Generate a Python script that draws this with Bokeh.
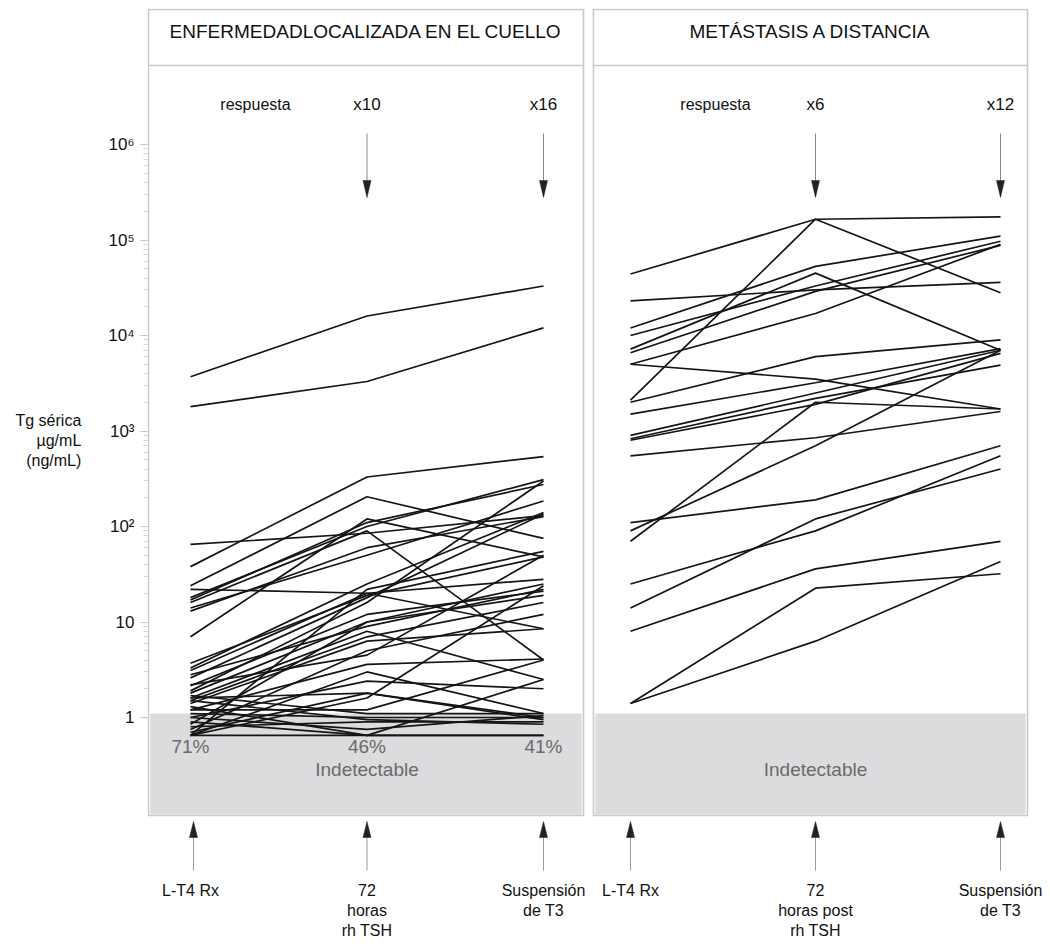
from bokeh.plotting import figure
from bokeh.models import Range1d, FixedTicker, LogScale
from bokeh.layouts import row
from bokeh.embed import file_html
from bokeh.resources import INLINE
from bokeh.core.properties import value

# ---------------- data ----------------
timepoints = [0, 1, 2]
left_title = "ENFERMEDADLOCALIZADA EN EL CUELLO"
right_title = "METÁSTASIS A DISTANCIA"
left_xlabels = ["L-T4 Rx", "72\nhoras\nrh TSH", "Suspensión\nde T3"]
right_xlabels = ["L-T4 Rx", "72\nhoras post\nrh TSH", "Suspensión\nde T3"]
left_response = ["x10", "x16"]
right_response = ["x6", "x12"]
left_undetect_pct = ["71%", "46%", "41%"]
y_ticks = [1, 10, 100, 1000, 10000, 100000, 1000000]
y_tick_labels = ["1", "10", "10²", "10³", "10⁴", "10⁵", "10⁶"]

# Tg (ng/mL) per patient: L-T4 Rx, 72 h rhTSH, T3 withdrawal
left_l4 = [3700, 1800, 38, 65, 24, 22, 18, 17, 14, 13, 7, 3.7, 3.1, 2.6,
           2.15, 1.8, 1.6, 1.4, 1.2, 1.0, 0.65, 0.65, 1.3, 0.9, 0.65, 1.1,
           0.8, 1.7, 1.5, 2.8, 3.3, 1.9, 1.5, 0.75, 1.2, 0.7, 16, 0.65,
           1.6, 2.2, 0.85, 1.0]
left_72h = [16000, 3300, 330, 85, 205, 20, 100, 110, 50, 60, 120, 19, 20, 18,
            12, 10, 8, 6.3, 3.6, 2.4, 22, 1.6, 0.65, 0.65, 0.65, 1.0,
            0.9, 1.1, 0.95, 9, 25, 16, 7, 5, 1.2, 1.8, 90, 3,
            1.8, 4.5, 10, 0.75]
left_susp = [33000, 12000, 540, 130, 75, 8.5, 310, 275, 185, 127, 48, 48, 28, 135,
             21, 19, 2.5, 8.5, 4.1, 2.0, 55, 24, 2.5, 0.65, 0.65, 1.0,
             0.9, 1.1, 0.85, 22, 140, 300, 16, 12, 4, 1.0, 4, 1.1,
             0.95, 50, 25, 1.05]

right_l4 = [44000, 2100, 23000, 12000, 10000, 7200, 6600, 5000, 5000, 2000,
            1500, 900, 830, 800, 550, 110, 70, 25, 14, 8, 1.4, 1.4, 90]
right_72h = [165000, 165000, 30000, 53000, 33000, 45000, 29000, 17000, 3500, 6000,
             3200, 2500, 2200, 1900, 850, 190, 2000, 90, 120, 36, 22.6, 6.3, 700]
right_susp = [175000, 28000, 36000, 110000, 97000, 7000, 88000, 90000, 1700, 9000,
              7300, 7000, 4900, 6500, 1600, 700, 1700, 550, 400, 70, 32, 43, 7000]

# ---------------- layout helpers ----------------
PX_ONE, PX_DEC = 717.0, 95.5          # screen y of value 1, px per decade
TOP = 8                                # screen y of figure top
def yv(py):
    return 10 ** ((PX_ONE - py) / PX_DEC)

FONT = "Liberation Sans"
LINE_C = "#151515"
BORDER_C = "#c9c9c9"
SHADE_C = "#dcdcdf"

yr = Range1d(yv(TOP + 864), yv(TOP))


def make_panel(x0px, unit, frame_l, frame_r, box_l, box_r, title, xlabels,
               l4, h72, susp, resp_x, resp_words, pct, with_axis):
    fx = lambda px: (px - x0px) / unit
    kw = dict(frame_width=int(frame_r - frame_l), frame_height=864,
              x_range=Range1d(fx(frame_l), fx(frame_r)), y_range=yr,
              y_axis_type="log", output_backend="svg", toolbar_location=None,
              min_border_top=TOP, min_border_bottom=66, min_border_right=0,
              outline_line_color=None, background_fill_color="white",
              border_fill_color="white")
    if with_axis:
        kw["min_border_left"] = int(frame_l)
    else:
        kw["min_border_left"] = 0
        kw["y_axis_location"] = None
    p = figure(**kw)
    p.y_scale = LogScale()
    p.xgrid.grid_line_color = None
    p.ygrid.grid_line_color = None

    bl, br = fx(box_l), fx(box_r)
    # shaded "undetectable" zone
    p.quad(left=[bl + 0.01], right=[br - 0.01], bottom=[yv(814)], top=[yv(713)],
           fill_color=SHADE_C, line_color=None)
    # panel frame + header divider
    p.quad(left=[bl], right=[br], bottom=[yv(815)], top=[yv(TOP + 1)],
           fill_color=None, line_color=BORDER_C, line_width=1.6)
    p.segment(x0=[bl], x1=[br], y0=[yv(65)], y1=[yv(65)],
              line_color=BORDER_C, line_width=1.6)
    p.text(x=[(bl + br) / 2], y=[yv(31)], text=[title], text_align="center",
           text_baseline="middle", text_font=value(FONT), text_font_size="19px",
           text_color="#111")

    # patient lines
    xs = [timepoints for _ in l4]
    ys = [[a, b, c] for a, b, c in zip(l4, h72, susp)]
    p.multi_line(xs=xs, ys=ys, line_color=LINE_C, line_width=1.7)

    # response labels and down arrows
    p.text(x=[fx(resp_x)], y=[yv(104)], text=["respuesta"], text_align="center",
           text_baseline="middle", text_font=value(FONT), text_font_size="16px",
           text_color="#111")
    p.text(x=[1, 2], y=[yv(104), yv(104)], text=resp_words, text_align="center",
           text_baseline="middle", text_font=value(FONT), text_font_size="17px",
           text_color="#111")
    hw = 4.0 / unit
    p.segment(x0=[1, 2], x1=[1, 2], y0=[yv(133)] * 2, y1=[yv(184)] * 2,
              line_color="#8a8a8a", line_width=1)
    p.patches(xs=[[t - hw, t + hw, t] for t in (1, 2)],
              ys=[[yv(180), yv(180), yv(197)] for _ in (1, 2)],
              fill_color="#222", line_color="#222", line_width=0.5)

    # up arrows below the panel
    ups = [fx(193) if with_axis else 0, 1, 2]
    p.segment(x0=ups, x1=ups, y0=[yv(834)] * 3, y1=[yv(870)] * 3,
              line_color="#9a9a9a", line_width=1)
    p.patches(xs=[[t - hw, t + hw, t] for t in ups],
              ys=[[yv(837), yv(837), yv(821)] for _ in ups],
              fill_color="#222", line_color="#222", line_width=0.5)

    # undetectable zone labels
    if pct:
        p.text(x=timepoints, y=[yv(746)] * 3, text=pct, text_align="center",
               text_baseline="middle", text_font=value(FONT), text_font_size="19px",
               text_color="#6a6a6a")
    p.text(x=[1], y=[yv(769)], text=["Indetectable"], text_align="center",
           text_baseline="middle", text_font=value(FONT), text_font_size="19px",
           text_color="#6a6a6a")

    # x axis: time-point labels
    xa = p.xaxis[0]
    xa.ticker = FixedTicker(ticks=timepoints)
    xa.major_label_overrides = {t: s for t, s in zip(timepoints, xlabels)}
    xa.axis_line_color = None
    xa.major_tick_line_color = None
    xa.minor_tick_line_color = None
    xa.major_label_standoff = 3
    xa.major_label_text_font = FONT
    xa.major_label_text_font_size = "16px"
    xa.major_label_text_color = "#111"

    if with_axis:
        ya = p.yaxis[0]
        minor = [m * 10 ** k for k in range(0, 6) for m in range(2, 10)]
        ya.ticker = FixedTicker(ticks=y_ticks, minor_ticks=minor)
        ya.major_label_overrides = {t: s for t, s in zip(y_ticks, y_tick_labels)}
        ya.axis_line_color = None
        ya.major_tick_line_color = "#c4c4c4"
        ya.major_tick_in = 0
        ya.major_tick_out = 7
        ya.minor_tick_line_color = "#d4d4d4"
        ya.minor_tick_in = 0
        ya.minor_tick_out = 4
        ya.major_label_standoff = 6
        ya.major_label_text_font = FONT
        ya.major_label_text_font_size = "17px"
        ya.major_label_text_color = "#111"
        ya.axis_label = "Tg sérica\nµg/mL\n(ng/mL)"
        ya.axis_label_orientation = "horizontal"
        ya.axis_label_standoff = 24
        ya.axis_label_text_font = FONT
        ya.axis_label_text_font_style = "normal"
        ya.axis_label_text_font_size = "16px"
        ya.axis_label_text_color = "#111"
    return p


pl = make_panel(190, 176.5, 147, 589, 148, 583, left_title, left_xlabels,
                left_l4, left_72h, left_susp, 255, left_response, left_undetect_pct, True)
pr = make_panel(630, 185.0, 589, 1042, 593, 1027, right_title, right_xlabels,
                right_l4, right_72h, right_susp, 715, right_response, None, False)

layout = row(pl, pr, spacing=0)
open("out.html", "w").write(file_html(layout, INLINE))
